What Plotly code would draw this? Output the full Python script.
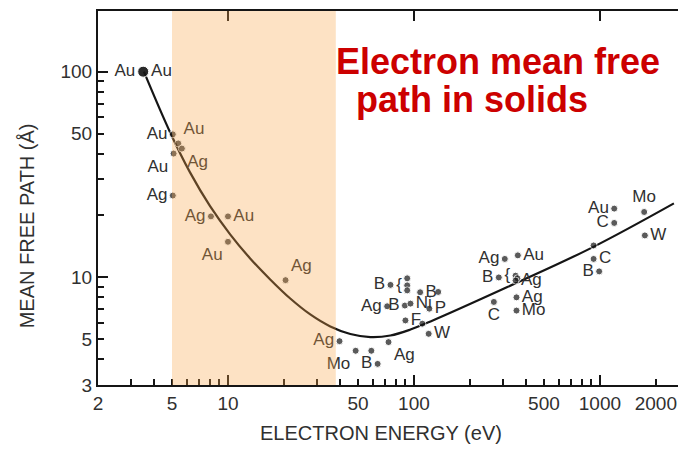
import numpy as np
import plotly.graph_objects as go

# ---- data -------------------------------------------------------------
# measured points: electron energy (eV), mean free path (Å), element label
energy = [3.5, 3.5, 5.05, 5.4, 5.65, 5.1, 5.05, 8.1, 10.0, 10.0, 20.4,
          39.8, 48.6, 59, 63.8, 73, 74.8, 92, 92, 92, 108, 135, 71.8, 89.4,
          95.8, 121, 90, 111, 120,
          308, 362, 286, 352, 360, 352, 356, 356, 269,
          1194, 1194, 925, 925, 991, 1730, 1745]
mfp = [100, 100, 49.6, 44.8, 42.3, 40.0, 25.0, 19.8, 19.8, 14.9, 9.7,
       4.9, 4.4, 4.4, 3.8, 4.85, 9.2, 9.9, 9.15, 8.65, 8.47, 8.5, 7.24, 7.3,
       7.46, 7.05, 6.18, 5.96, 5.32,
       12.3, 12.8, 10.0, 10.2, 9.9, 9.66, 8.0, 6.9, 7.6,
       21.6, 18.4, 14.3, 12.3, 10.7, 20.8, 16.0]
element = ["Au", "Au", "Au", "Au", "Ag", "Au", "Ag", "Ag", "Au", "Au", "Ag",
           "Ag", "Mo", "", "B", "Ag", "B", "", "{", "", "B", "", "Ag", "B",
           "Ni", "P", "F", "", "W",
           "Ag", "Au", "B", "{", "", "Ag", "Ag", "Mo", "C",
           "Au", "C", "", "C", "B", "Mo", "W"]
label_side = ["middle left", "middle right", "middle left", "top right",
              "bottom right", "bottom left", "middle left", "middle left",
              "middle right", "bottom left", "top right",
              "middle left", "bottom left", "middle right", "middle left",
              "bottom right", "middle left", "middle right", "middle left",
              "middle right", "middle right", "middle right", "middle left",
              "middle left", "middle right", "middle right", "middle right",
              "middle right", "middle right",
              "middle left", "middle right", "middle left", "middle left",
              "middle right", "middle right", "middle right", "middle right",
              "bottom center",
              "middle left", "middle left", "middle right", "middle right",
              "middle left", "top center", "middle right"]
dot_size = [11, 11] + [7] * (len(energy) - 2)

# "universal curve" drawn through the data
curve_energy = [3.53, 4.88, 6.25, 8.01, 10.27, 13.16, 16.87, 21.62, 27.7,
                35.5, 45.5, 58.3, 74.7, 95.8, 122.8, 318, 912, 2500]
curve_mfp = [100, 50.8, 32.4, 22.2, 16.2, 12.37, 9.78, 7.9, 6.61,
             5.78, 5.31, 5.13, 5.22, 5.58, 6.11, 8.98, 14.0, 22.9]

# highlighted energy window (eV)
window = [5, 38]

# axis ticks
x_ticks = [2, 3, 4, 5, 6, 7, 8, 9, 10, 20, 30, 40, 50, 60, 70, 80, 90, 100,
           200, 300, 400, 500, 600, 700, 800, 900, 1000, 2000]
x_labeled = [2, 5, 10, 50, 100, 500, 1000, 2000]
y_ticks = [3, 4, 5, 6, 7, 8, 9, 10, 20, 30, 40, 50, 60, 70, 80, 90, 100, 200]
y_labeled = [3, 5, 10, 50, 100]
decades = [10, 100, 1000]

# ---- figure -----------------------------------------------------------
INK = "#151515"
TXT = "#303030"
FONT = "Liberation Sans, Arial, sans-serif"

fig = go.Figure()

fig.add_trace(go.Scatter(
    x=curve_energy, y=curve_mfp, mode="lines",
    line=dict(color=INK, width=2.2, shape="spline", smoothing=1.0),
    hoverinfo="skip", showlegend=False))

fig.add_trace(go.Scatter(
    x=energy, y=mfp, mode="markers+text",
    marker=dict(color=INK, size=dot_size),
    text=element, textposition=label_side,
    textfont=dict(family=FONT, size=17, color=TXT),
    showlegend=False, cliponaxis=False))

xr = [np.log10(2), 3.42]
yr = [np.log10(3), 2.295]

axis_common = dict(type="log", showgrid=False, zeroline=False)

fig.update_layout(
    width=678, height=449,
    margin=dict(l=98, r=0, t=11, b=64),
    paper_bgcolor="white", plot_bgcolor="white",
    xaxis=dict(**axis_common, range=xr,
               tickvals=x_ticks,
               ticktext=[str(v) if v in x_labeled else "" for v in x_ticks],
               ticks="inside", ticklen=6, tickwidth=1.5, tickcolor=INK,
               showline=True, linecolor=INK, linewidth=2, mirror=True,
               tickfont=dict(family=FONT, size=19, color=TXT)),
    xaxis2=dict(**axis_common, range=xr, overlaying="x", anchor="y",
                side="bottom", tickvals=decades, showticklabels=False,
                ticks="inside", ticklen=10, tickwidth=1.5, tickcolor=INK,
                showline=False, mirror="ticks"),
    yaxis=dict(**axis_common, range=yr,
               tickvals=y_ticks,
               ticktext=[str(v) if v in y_labeled else "" for v in y_ticks],
               ticks="inside", ticklen=6, tickwidth=1.5, tickcolor=INK,
               showline=True, linecolor=INK, linewidth=2,
               tickfont=dict(family=FONT, size=19, color=TXT)),
    yaxis2=dict(**axis_common, range=yr, overlaying="y", anchor="x",
                side="left", tickvals=[10, 100], showticklabels=False,
                ticks="inside", ticklen=10, tickwidth=1.5, tickcolor=INK,
                showline=False),
)

# invisible trace so the overlay axes are drawn
fig.add_trace(go.Scatter(x=[None], y=[None], xaxis="x2", yaxis="y2",
                         showlegend=False, hoverinfo="skip"))

# highlighted energy window, tinting whatever lies beneath it
fig.add_shape(type="rect", xref="x", yref="paper",
              x0=window[0], x1=window[1], y0=0, y1=1,
              fillcolor="rgba(250,165,70,0.32)", line=dict(width=0),
              layer="above")

# axis titles
fig.add_annotation(text="ELECTRON ENERGY (eV)", xref="paper", yref="paper",
                   x=0.488, y=-0.128, showarrow=False,
                   xanchor="center", yanchor="middle",
                   font=dict(family=FONT, size=20, color=TXT))
fig.add_annotation(text="MEAN FREE PATH (Å)", xref="paper", yref="paper",
                   x=-0.122, y=0.425, showarrow=False, textangle=-90,
                   xanchor="center", yanchor="middle",
                   font=dict(family=FONT, size=20, color=TXT))

# headline
RED = "#cc0000"
fig.add_annotation(text="<b>Electron mean free</b>", xref="paper", yref="paper",
                   x=(334 - 98) / 580, y=(385 - 62) / 374, showarrow=False,
                   xanchor="left", yanchor="middle",
                   font=dict(family=FONT, size=36, color=RED))
fig.add_annotation(text="<b>path in solids</b>", xref="paper", yref="paper",
                   x=(354 - 98) / 580, y=(385 - 99) / 374, showarrow=False,
                   xanchor="left", yanchor="middle",
                   font=dict(family=FONT, size=36, color=RED))

fig.write_html("out.html")
